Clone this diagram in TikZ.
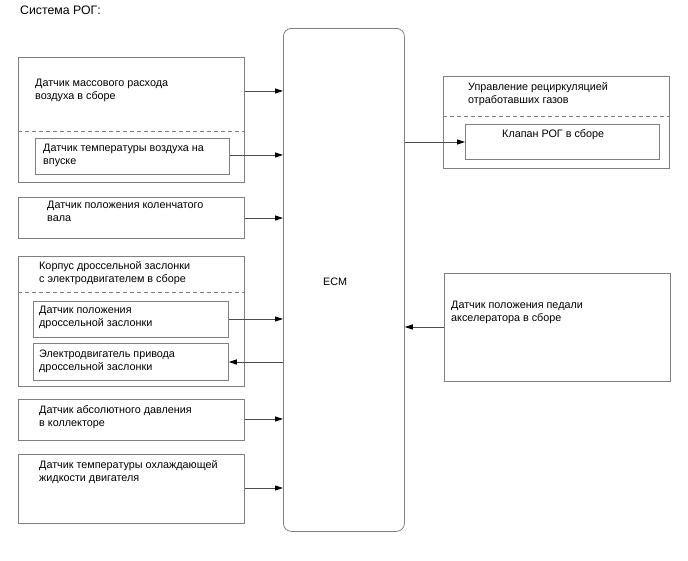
\documentclass[tikz,border=0pt]{standalone}
\usepackage{fontspec}
\setmainfont{Liberation Sans}
\usetikzlibrary{arrows.meta}
\begin{document}
\begin{tikzpicture}[x=1pt,y=-1pt,
  box/.style={draw=gray, line width=0.8pt, anchor=north west, inner sep=0pt},
  lbl/.style={anchor=north west, inner sep=0pt, align=left, font=\fontsize{10.8}{13}\selectfont},
  sepline/.style={draw=gray, line width=0.8pt, dash pattern=on 4pt off 3pt},
  arr/.style={draw=gray!60!black, line width=0.8pt, -{Triangle[length=8pt,width=5pt,color=black]}}]
\useasboundingbox (0,0) rectangle (688,560);
% title
\node[anchor=north west, inner sep=0pt, font=\fontsize{12.3}{14}\selectfont] (title) at (20,6) {Система РОГ:};
% ECM
\node[box, rounded corners=8pt, minimum width=121pt, minimum height=503pt] (ecm) at (283,28) {};
\node[lbl] (ecmt) at (323,277.5) {ECM};
% left boxes
\node[box, minimum width=226pt, minimum height=125pt] (maf) at (18,57) {};
\node[lbl] (maft) at (35,78.5) {Датчик массового расхода\\воздуха в сборе};
\draw[sepline] (maf.west |- 0,131) -- (maf.east |- 0,131);
\node[box, minimum width=194pt, minimum height=36pt] (iat) at (35,138) {};
\node[lbl] (iatt) at (43,144) {Датчик температуры воздуха на\\впуске};

\node[box, minimum width=226pt, minimum height=41pt] (ckp) at (18,197) {};
\node[lbl] (ckpt) at (47,200.5) {Датчик положения коленчатого\\вала};

\node[box, minimum width=226pt, minimum height=130pt] (tb) at (18,256) {};
\node[lbl] (tbt) at (39,261) {Корпус дроссельной заслонки\\с электродвигателем в сборе};
\draw[sepline] (tb.west |- 0,292) -- (tb.east |- 0,292);
\node[box, minimum width=195pt, minimum height=36pt] (tps) at (33,301) {};
\node[lbl] (tpst) at (39,306) {Датчик положения\\дроссельной заслонки};
\node[box, minimum width=195pt, minimum height=37pt] (mot) at (33,343) {};
\node[lbl] (mott) at (39,350) {Электродвигатель привода\\дроссельной заслонки};

\node[box, minimum width=226pt, minimum height=41pt] (map) at (18,399) {};
\node[lbl] (mapt) at (39,405.5) {Датчик абсолютного давления\\в коллекторе};

\node[box, minimum width=226pt, minimum height=69pt] (ect) at (18,454) {};
\node[lbl] (ectt) at (39,460) {Датчик температуры охлаждающей\\жидкости двигателя};

% right boxes
\node[box, minimum width=226pt, minimum height=92pt] (egr) at (443,76) {};
\node[lbl] (egrt) at (468,82) {Управление рециркуляцией\\отработавших газов};
\draw[sepline] (egr.west |- 0,116) -- (egr.east |- 0,116);
\node[box, minimum width=194pt, minimum height=35pt] (egrv) at (465,124) {};
\node[lbl] (egrvt) at (502,129) {Клапан РОГ в сборе};

\node[box, minimum width=226pt, minimum height=108pt] (app) at (444,273) {};
\node[lbl] (appt) at (451,301) {Датчик положения педали\\акселератора в сборе};

% connectors
\draw[arr] (maf.east |- 0,91) -- (ecm.west |- 0,91);
\draw[arr] (iat.east |- 0,155) -- (ecm.west |- 0,155);
\draw[arr] (ckp.east |- 0,218) -- (ecm.west |- 0,218);
\draw[arr] (tps.east |- 0,319) -- (ecm.west |- 0,319);
\draw[arr] (ecm.west |- 0,362) -- (mot.east |- 0,362);
\draw[arr] (map.east |- 0,419) -- (ecm.west |- 0,419);
\draw[arr] (ect.east |- 0,488) -- (ecm.west |- 0,488);
\draw[arr] (ecm.east |- 0,142) -- (egrv.west |- 0,142);
\draw[arr] (app.west |- 0,327) -- (ecm.east |- 0,327);
\end{tikzpicture}
\end{document}
